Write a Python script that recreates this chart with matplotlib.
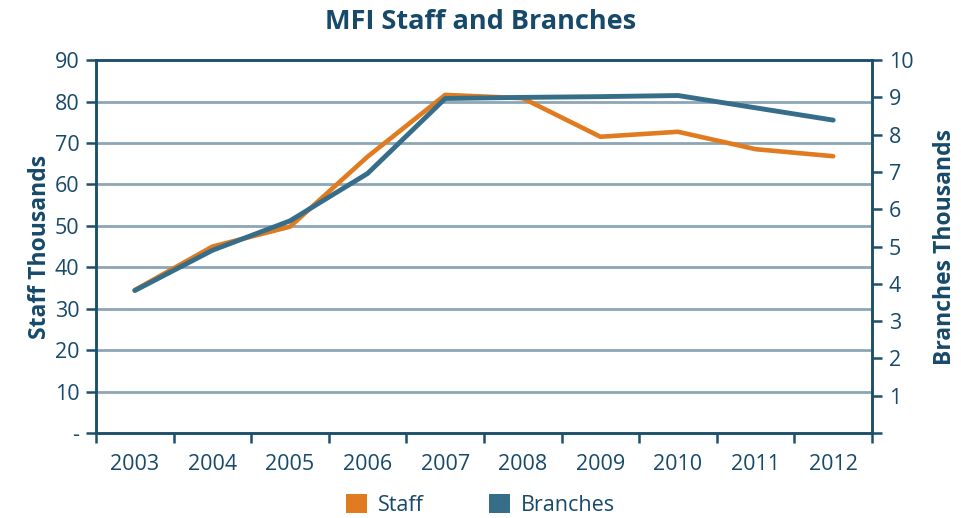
import matplotlib
matplotlib.use("Agg")
import matplotlib.pyplot as plt
from matplotlib.patches import Patch
import numpy as np

years = ["2003", "2004", "2005", "2006", "2007", "2008", "2009", "2010", "2011", "2012"]
staff = [34.5, 45.0, 49.8, 66.7, 81.6, 80.8, 71.5, 72.7, 68.5, 66.8]
branches = [3.82, 4.9, 5.69, 6.96, 8.97, 9.0, 9.02, 9.05, 8.72, 8.39]
left_ticks = [0, 10, 20, 30, 40, 50, 60, 70, 80, 90]
left_labels = ["-", "10", "20", "30", "40", "50", "60", "70", "80", "90"]
right_ticks = [0, 1, 2, 3, 4, 5, 6, 7, 8, 9, 10]
right_labels = ["", "1", "2", "3", "4", "5", "6", "7", "8", "9", "10"]

plt.rcParams['font.family'] = ['Open Sans', 'DejaVu Sans']
TXT = "#17496A"
AX = "#1B4F6B"
GRID = "#8CA6B5"
ORANGE = "#E07B1F"
TEAL = "#366E89"
FS = 15.5

fig = plt.figure(figsize=(9.61, 5.18), dpi=100)
ax1 = fig.add_axes([0.0999, 0.164, 0.8075, 0.720])
ax2 = ax1.twinx()

x = np.arange(len(years))
ax1.plot(x, staff, color=ORANGE, lw=3.3, solid_capstyle='round', zorder=3)
ax2.plot(x, branches, color=TEAL, lw=3.5, solid_capstyle='round', zorder=3)

ax1.set_xlim(-0.5, len(years) - 0.5)
ax1.set_ylim(0, 90)
ax2.set_ylim(0, 10)

ax1.set_yticks(left_ticks)
ax1.set_yticklabels(left_labels)
ax2.set_yticks(right_ticks)
ax2.set_yticklabels(right_labels)

for g in left_ticks[1:-1]:
    ax1.axhline(g, color=GRID, lw=2.0, zorder=1)

ax1.set_xticks(np.arange(-0.5, len(years), 1.0))
ax1.set_xticklabels([])
ax1.set_xticks(x, minor=True)
ax1.set_xticklabels(years, minor=True)
ax1.tick_params(axis='x', which='major', length=7, width=1.8, color=AX, direction='out')
ax1.tick_params(axis='x', which='minor', length=0, pad=15, labelsize=FS, labelcolor=TXT)
ax1.tick_params(axis='y', length=7, width=1.8, color=AX, labelsize=FS, labelcolor=TXT, pad=5)
ax2.tick_params(axis='y', length=7, width=1.8, color=AX, labelsize=FS, labelcolor=TXT, pad=5)

for ax in (ax1, ax2):
    for s in ax.spines.values():
        s.set_color(AX)
        s.set_linewidth(1.8)

ax1.set_ylabel("Staff Thousands", fontsize=16.5, fontweight='bold', color=TXT, labelpad=2)
ax2.set_ylabel("Branches Thousands", fontsize=16.5, fontweight='bold', color=TXT, labelpad=14)

fig.text(0.5, 0.957, "MFI Staff and Branches", fontsize=19.5, fontweight='bold', color=TXT,
         ha='center', va='center')

handles = [Patch(facecolor=ORANGE, label="Staff"), Patch(facecolor=TEAL, label="Branches")]
fig.legend(handles=handles, loc='center', bbox_to_anchor=(0.5, 0.025), ncol=2, frameon=False,
           fontsize=FS, labelcolor=TXT, handlelength=1.0, handleheight=1.0, columnspacing=3.0,
           handletextpad=0.5)

fig.savefig("out.png", dpi=100)
